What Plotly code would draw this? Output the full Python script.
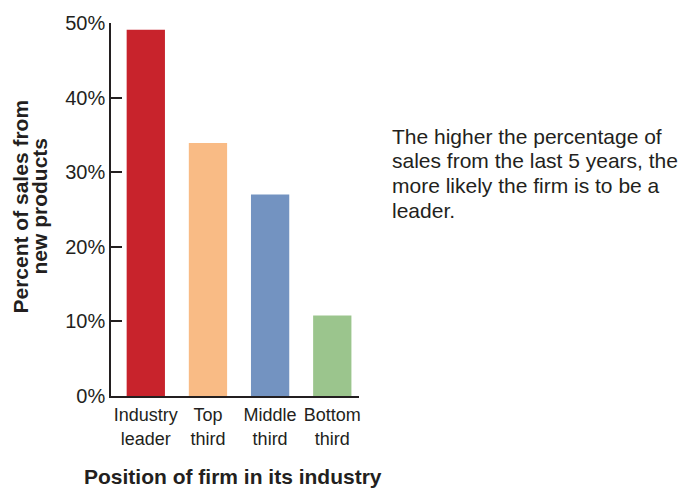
import plotly.graph_objects as go

categories = ["Industry leader", "Top third", "Middle third", "Bottom third"]
tick_labels = ["Industry<br>leader", "Top<br>third", "Middle<br>third", "Bottom<br>third"]
values = [49.1, 33.9, 27.0, 10.8]
colors = ["#C8232C", "#F9BB85", "#7393C1", "#9BC58D"]
y_ticks = [0, 10, 20, 30, 40, 50]
note_lines = [
    "The higher the percentage of",
    "sales from the last 5 years, the",
    "more likely the firm is to be a",
    "leader.",
]
y_title_lines = ["Percent of sales from", "new products"]
x_title = "Position of firm in its industry"

TXT = "#231F20"
FONT = "Liberation Sans, Arial, Helvetica, sans-serif"

W, H = 684, 488
L, R, T, B = 111, 325, 20, 92
PW, PH = W - L - R, H - T - B


def px_x(px):
    return (px - L) / PW


def px_y(py):
    return (H - B - py) / PH


fig = go.Figure(
    go.Bar(
        x=categories,
        y=values,
        marker=dict(color=colors, line=dict(width=0)),
        hoverinfo="skip",
    )
)

annotations = []
for i, line in enumerate(note_lines):
    annotations.append(dict(x=px_x(390), xref="paper", y=px_y(134 + 25 * i), yref="paper",
                            text=line, showarrow=False, xanchor="left", yanchor="middle",
                            font=dict(size=21, color=TXT, family=FONT)))

for xp, line in zip([21, 40], y_title_lines):
    annotations.append(dict(x=px_x(xp), xref="paper", y=px_y(205), yref="paper",
                            text="<b>" + line + "</b>", showarrow=False, textangle=-90,
                            xanchor="center", yanchor="middle",
                            font=dict(size=21, color=TXT, family=FONT)))

annotations.append(dict(x=px_x(233), xref="paper", y=px_y(477), yref="paper",
                        text="<b>" + x_title + "</b>", showarrow=False,
                        xanchor="center", yanchor="middle",
                        font=dict(size=21, color=TXT, family=FONT)))

fig.update_layout(
    width=W, height=H,
    margin=dict(l=L, r=R, t=T, b=B, pad=0),
    paper_bgcolor="white", plot_bgcolor="white",
    bargap=0.384,
    showlegend=False,
    font=dict(family=FONT, color=TXT),
    annotations=annotations,
    xaxis=dict(
        range=[-0.56, 3.43],
        tickvals=categories,
        ticktext=tick_labels,
        ticks="outside", ticklen=2, tickcolor="rgba(0,0,0,0)",
        tickfont=dict(size=18, color=TXT, family=FONT),
        showgrid=False,
        zeroline=False,
        showline=True, linecolor=TXT, linewidth=1.5,
        fixedrange=True,
    ),
    yaxis=dict(
        range=[0, 50],
        tickvals=y_ticks,
        ticktext=[f"{v}%" for v in y_ticks],
        ticks="inside", ticklen=11, tickwidth=1.5, tickcolor=TXT,
        tickfont=dict(size=20, color=TXT, family=FONT),
        showgrid=False, zeroline=False,
        showline=True, linecolor=TXT, linewidth=1.5,
        fixedrange=True,
    ),
)

fig.write_html("out.html", config={"displayModeBar": False})
